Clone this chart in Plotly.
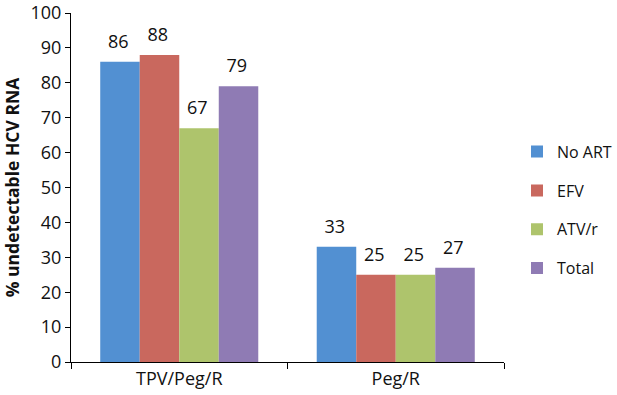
import plotly.graph_objects as go

categories = ["TPV/Peg/R", "Peg/R"]
series_names = ["No ART", "EFV", "ATV/r", "Total"]
no_art = [86, 33]
efv = [88, 25]
atv_r = [67, 25]
total = [79, 27]
y_ticks = list(range(0, 101, 10))

colors = ["#5290D2", "#C9685E", "#AEC46C", "#8F7BB4"]
values = [no_art, efv, atv_r, total]

# a tall hair-space after each value label lifts it a little higher above its bar
SPACER = "<span style='font-size:36px'>\u200a</span>"

fig = go.Figure()
for i, (name, vals) in enumerate(zip(series_names, values)):
    fig.add_trace(go.Bar(
        x=categories, y=vals, name=name,
        marker=dict(color=colors[i], line=dict(width=0)),
        text=[f"{v}{SPACER}" for v in vals], textposition="outside",
        textfont=dict(size=18, color="#111111"), constraintext="none",
        cliponaxis=False, legendgroup=name, hoverinfo="x+y+name",
    ))

fig.update_layout(
    width=617, height=395,
    margin=dict(l=71, r=113, t=13, b=33, autoexpand=False),
    paper_bgcolor="white", plot_bgcolor="white",
    barmode="group", bargap=0.27, bargroupgap=0,
    font=dict(family="Open Sans", size=18, color="#111111"),
    showlegend=True,
    legend=dict(xref="container", x=1.0, xanchor="right",
                y=0.435, yanchor="middle",
                font=dict(size=16), tracegroupgap=15,
                itemwidth=30),
)
fig.update_xaxes(
    type="category", showline=True, linecolor="#000000", linewidth=1,
    ticks="outside", tickson="boundaries", ticklen=6, tickcolor="#000000",
    showgrid=False, tickfont=dict(size=18), automargin=False,
    ticklabeloverflow="allow",
)
fig.update_yaxes(
    range=[0, 100], tickvals=y_ticks, showline=True, linecolor="#000000",
    linewidth=1, ticks="outside", ticklen=5, tickcolor="#000000",
    showgrid=False, zeroline=False, tickfont=dict(size=18), automargin=False,
    ticklabeloverflow="allow",
    title=dict(text="<b>% undetectable HCV RNA</b>", font=dict(size=17.5), standoff=6),
)
# remove the browser's default 8px page margin so the figure fills the window
fig.write_html("out.html", post_script="document.body.style.margin='0';",
               config={"displayModeBar": False})
